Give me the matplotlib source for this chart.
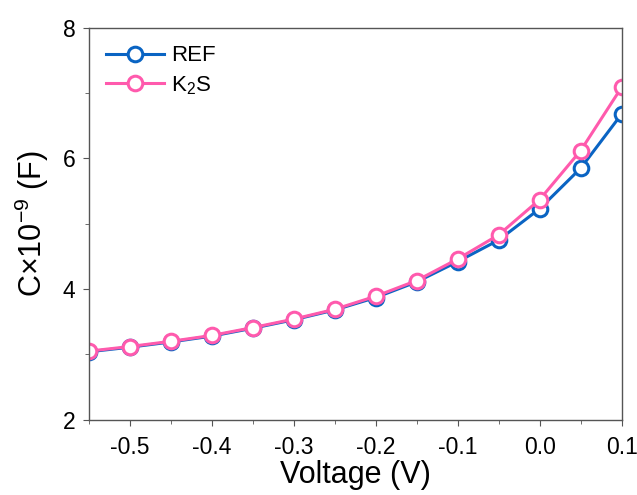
import matplotlib
matplotlib.use("Agg")
import matplotlib.pyplot as plt
from matplotlib.ticker import MultipleLocator, FormatStrFormatter

plt.rcParams["font.family"] = ["Liberation Sans", "DejaVu Sans"]
plt.rcParams["mathtext.fontset"] = "custom"
plt.rcParams["mathtext.rm"] = "Liberation Sans"
plt.rcParams["mathtext.it"] = "Liberation Sans:italic"
plt.rcParams["axes.unicode_minus"] = False

voltage = [-0.55, -0.50, -0.45, -0.40, -0.35, -0.30, -0.25, -0.20,
           -0.15, -0.10, -0.05, 0.00, 0.05, 0.10]
cap_ref = [3.04, 3.11, 3.19, 3.28, 3.40, 3.53, 3.68, 3.87,
           4.11, 4.42, 4.75, 5.23, 5.85, 6.68]
cap_k2s = [3.05, 3.12, 3.20, 3.29, 3.41, 3.54, 3.69, 3.89,
           4.13, 4.46, 4.83, 5.37, 6.12, 7.09]

BLUE = "#0a64c3"
PINK = "#ff5aad"

fig = plt.figure(figsize=(6.37, 4.95), dpi=100)
ax = fig.add_axes([0.139, 0.152, 0.837, 0.792])

style = dict(marker="o", markersize=10.5, markerfacecolor="white",
             markeredgewidth=2.2, linewidth=2.2)
ax.plot(voltage, cap_ref, color=BLUE, label="REF", **style)
ax.plot(voltage, cap_k2s, color=PINK, label="K$_2$S", **style)

ax.set_xlim(-0.55, 0.1)
ax.set_ylim(2, 8)
ax.xaxis.set_major_locator(MultipleLocator(0.1))
ax.xaxis.set_minor_locator(MultipleLocator(0.05))
ax.yaxis.set_major_locator(MultipleLocator(2))
ax.yaxis.set_minor_locator(MultipleLocator(1))
ax.xaxis.set_major_formatter(FormatStrFormatter("%.1f"))

for s in ax.spines.values():
    s.set_color("#555555")
    s.set_linewidth(1.0)
ax.tick_params(which="both", direction="out", color="#555555", labelsize=16.5)
ax.tick_params(which="major", length=4.5)
ax.tick_params(which="minor", length=3)
ax.tick_params(axis="x", which="major", pad=7)
ax.tick_params(axis="y", which="major", pad=5)

ax.set_xlabel("Voltage (V)", fontsize=22, labelpad=1)
ax.set_ylabel("C×10$^{-9}$ (F)", fontsize=22, labelpad=8)

ax.legend(loc="upper left", frameon=False, fontsize=16, handlelength=2.6,
          handletextpad=0.3, borderaxespad=0.4, borderpad=0.4,
          labelspacing=0.35)

fig.savefig("out.png", dpi=100)
